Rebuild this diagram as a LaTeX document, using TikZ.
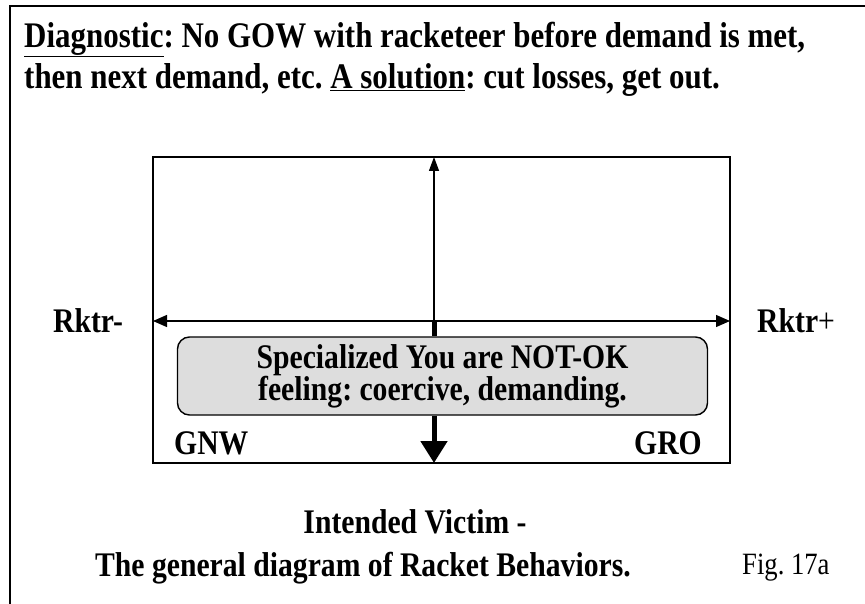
\documentclass[tikz,border=0pt]{standalone}
\usepackage{fontspec}
\setmainfont{Liberation Serif}[FakeStretch=0.86]
\usetikzlibrary{arrows.meta}
\begin{document}
\frenchspacing
\begin{tikzpicture}[x=1pt,y=-1pt,
  lbl/.style={font=\bfseries\fontsize{34.5}{38}\selectfont, inner sep=0pt},
  axis/.style={line width=1.3pt},
  thick axis/.style={line width=5pt},
  tip/.style={-{Triangle[length=14pt,width=10pt]}},
  bigtip/.style={-{Triangle[length=22pt,width=26pt]}}]
\useasboundingbox (0,0) rectangle (865,604);
% outer frame (left and top only)
\draw[line width=2.5pt] (10,604) -- (10,6) -- (865,6);
% title
\node[anchor=west, inner sep=0pt, align=left,
      font=\bfseries\fontsize{36}{41}\selectfont] (title) at (24,59)
  {\underline{Diagnostic}: No GOW with racketeer before demand is met,\\
   then next demand, etc. \underline{A solution}: cut losses, get out.};
% inner box
\node[draw, line width=1.6pt, minimum width=577pt, minimum height=306pt, inner sep=0pt]
  (frame) at (441.5,310) {};
\coordinate (top) at (434,157);
\coordinate (cross) at (434,321);
\coordinate (lft) at (153,321);
\coordinate (rgt) at (730,321);
\coordinate (bot) at (434,463);
% gray box
\node[draw, line width=1.4pt, fill=gray!27, rounded corners=12pt,
      minimum width=530pt, minimum height=78pt, inner sep=0pt, align=center,
      font=\bfseries\fontsize{34.5}{32}\selectfont] (feel) at (442.5,376)
  {Specialized You are NOT-OK\\ feeling: coercive, demanding.};
% axes
\draw[axis, tip] (cross) -- (top);
\draw[axis, {Triangle[length=14pt,width=12pt]}-{Triangle[length=14pt,width=12pt]}] (lft) -- (rgt);
\draw[thick axis] (cross) -- (cross |- feel.north);
\draw[thick axis, bigtip] (cross |- feel.south) -- (bot);
% labels
\node[lbl, anchor=west] (rm) at (53,321) {Rktr-};
\node[lbl, anchor=west] (rp) at (757,321) {Rktr\textmd{+}};
\node[lbl, anchor=west] (gnw) at (174,443) {GNW};
\node[lbl, anchor=east] (gro) at (702,443) {GRO};
\node[lbl] (iv) at (415,522) {Intended Victim -};
\node[lbl, anchor=east] (cap) at (631,568) {The general diagram of Racket Behaviors.};
\node[inner sep=0pt, anchor=west, font=\fontsize{31}{34}\selectfont] (fig) at (742,568) {Fig. 17a};
\end{tikzpicture}
\end{document}
